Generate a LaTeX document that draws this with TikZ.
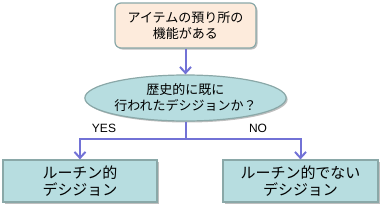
\documentclass[tikz,border=0pt]{standalone}
\usepackage{fontspec}
\setmainfont{Liberation Sans}
\newfontfamily\jp{Noto Sans CJK JP}
\usetikzlibrary{shapes.geometric,shadows,arrows.meta}
\definecolor{peach}{HTML}{FDEBDC}
\definecolor{teal1}{HTML}{B7DDE0}
\definecolor{bord}{HTML}{8AA8A8}
\definecolor{arr}{HTML}{7272D6}
\tikzset{
  x=1pt,y=-1pt,
  shad/.style={drop shadow={shadow xshift=1.5pt,shadow yshift=-1.5pt,fill=black,opacity=0.25}},
  topbox/.style={draw=bord,line width=1.2pt,fill=peach,rounded corners=6pt,minimum width=141pt,minimum height=45pt,inner sep=0pt,align=center,font=\jp\fontsize{13}{15.5}\selectfont,shad},
  ell/.style={ellipse,draw=bord,line width=1.2pt,fill=teal1,minimum width=185pt,minimum height=46pt,inner sep=0pt,align=center,font=\jp\fontsize{13}{16}\selectfont,shad},
  botbox/.style={draw=bord,line width=1.2pt,fill=teal1,minimum width=154pt,minimum height=42pt,inner sep=0pt,align=center,font=\jp\fontsize{15}{17.5}\selectfont,shad},
  conn/.style={draw=arr,line width=2pt,-{Straight Barb[length=6pt,width=11pt,line width=2pt]}},
  lbl/.style={font=\fontsize{12}{14}\selectfont,inner sep=0pt}
}
\begin{document}
\begin{tikzpicture}
\useasboundingbox (0,0) rectangle (384,209);
\node[topbox] (top) at (185.5,25.5) {アイテムの預り所の\\機能がある};
\node[ell] (q) at (185.5,98) {歴史的に既に\\行われたデシジョンか？};
\node[botbox] (yes) at (80,181) {ルーチン的\\デシジョン};
\node[botbox,minimum width=155pt] (no) at (300.5,181) {ルーチン的でない\\デシジョン};
\coordinate (j) at (185.5,139);
\draw[conn] (top.south) -- (q.north);
\draw[draw=arr,line width=2pt] (q.south) -- (j);
\draw[conn] (j) -| (yes.north);
\draw[conn] (j) -| (no.north);
\node[lbl] (ylab) at (104,128) {YES};
\node[lbl] (nlab) at (258,128) {NO};
\end{tikzpicture}
\end{document}
